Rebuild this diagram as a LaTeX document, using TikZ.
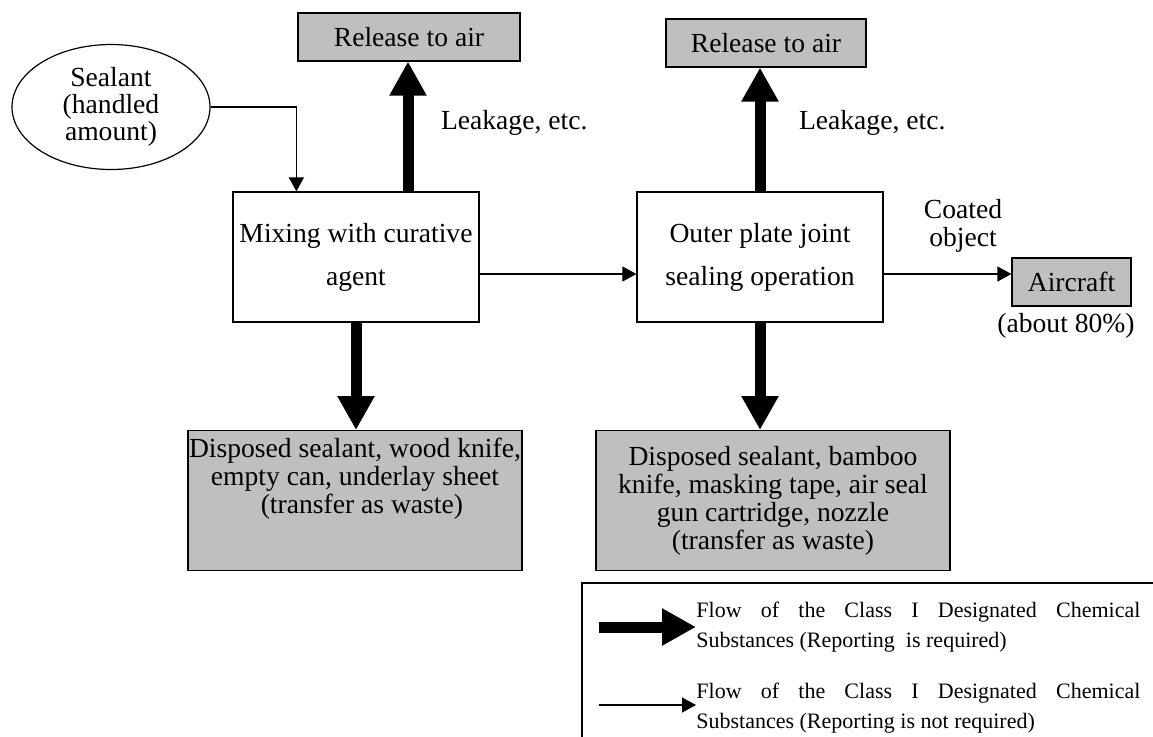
\documentclass[tikz,border=0pt]{standalone}
\usepackage{fontspec}
\setmainfont{Liberation Serif}
\usetikzlibrary{shapes.geometric,arrows.meta,positioning}
\newcommand\boxsize{\fontsize{13.8pt}{14pt}\selectfont}
\newcommand\wideboxsize{\fontsize{13.8pt}{21.5pt}\selectfont}
\newcommand\keysize{\fontsize{11pt}{15pt}\selectfont}
\tikzset{
	box/.style={draw,line width=.6pt,align=center,inner sep=0pt},
	graybox/.style={box,fill=black!25},
	bigflow/.style={line width=5.5pt,-{Triangle[width=17.5pt,length=17pt]}},
	smallflow/.style={line width=.6pt,-{Triangle[width=7.5pt,length=7pt]}},
	keytext/.style={anchor=west,text width=222pt,align=justify,font=\keysize,inner sep=0pt},
}
\begin{document}
\begin{tikzpicture}[x=.5pt,y=-.5pt,font=\boxsize]
	\useasboundingbox (0,0) rectangle (1153,736);
	\node[ellipse,draw,line width=.6pt,minimum width=99pt,minimum height=62.5pt,inner sep=0pt,align=center,font={\fontsize{13.8pt}{13.5pt}\selectfont}] (sealant) at (111,107) {Sealant\\(handled\\amount)};
	\node[box,minimum width=123pt,minimum height=65pt,font=\wideboxsize] (mix) at (356,257) {Mixing with curative\\agent};
	\node[box,minimum width=123pt,minimum height=65pt,font=\wideboxsize] (outer) at (760,257) {Outer plate joint\\sealing operation};
	\node[graybox,minimum width=111pt,minimum height=24pt] (air1) at (409,37) {Release to air};
	\node[graybox,minimum width=100pt,minimum height=24pt] (air2) at (766,43) {Release to air};
	\node[graybox,minimum width=59.5pt,minimum height=24pt] (plane) at (1071.5,282) {Aircraft};
	\node[graybox,minimum width=167pt,minimum height=70pt,anchor=north] (waste1) at (355,430) {};
	\node[align=center,anchor=north,inner sep=0pt] (waste1text) at ([yshift=-4pt]waste1.north) {Disposed sealant, wood knife,\\empty can, underlay sheet\\\ \ (transfer as waste)};
	\node[graybox,minimum width=177pt,minimum height=70pt,anchor=north] (waste2) at (773,430) {Disposed sealant, bamboo\\knife, masking tape, air seal\\gun cartridge, nozzle\\(transfer as waste)};
	\node[anchor=west] (leak1) at (434,123) {Leakage, etc.};
	\node[anchor=west] (leak2) at (792,123) {Leakage, etc.};
	\node[align=center] (coated) at (963,226) {Coated\\object};
	\node (share) at (1066,326) {(about 80\%)};
	\draw[smallflow] (sealant.east) -| ([xshift=32pt]mix.north west);
	\draw[bigflow] ([xshift=26pt]mix.north) -- ([xshift=26pt]mix.north |- air1.south);
	\draw[bigflow] (outer.north) -- (outer.north |- air2.south);
	\draw[bigflow] (mix.south) -- (mix.south |- waste1.north);
	\draw[bigflow] (outer.south) -- (outer.south |- waste2.north);
	\draw[smallflow] ([yshift=-8.5pt]mix.east) -- ([yshift=-8.5pt]outer.west);
	\draw[smallflow] ([yshift=-8.5pt]outer.east) -- ([yshift=-8.5pt]outer.east -| plane.west);
	\draw[line width=.6pt] (582,583) rectangle (1180,760);
	\coordinate (k1) at (599,627);
	\coordinate (k2) at (599,705);
	\node[keytext] (key1) at (696,627) {Flow of the Class I Designated Chemical\linebreak Substances (Reporting\ \ is required)};
	\node[keytext] (key2) at (696,708) {Flow of the Class I Designated Chemical\linebreak Substances (Reporting is not required)};
	\draw[bigflow] (k1) -- (key1.west);
	\draw[smallflow] (k2) -- (key2.west |- k2);
\end{tikzpicture}
\end{document}
